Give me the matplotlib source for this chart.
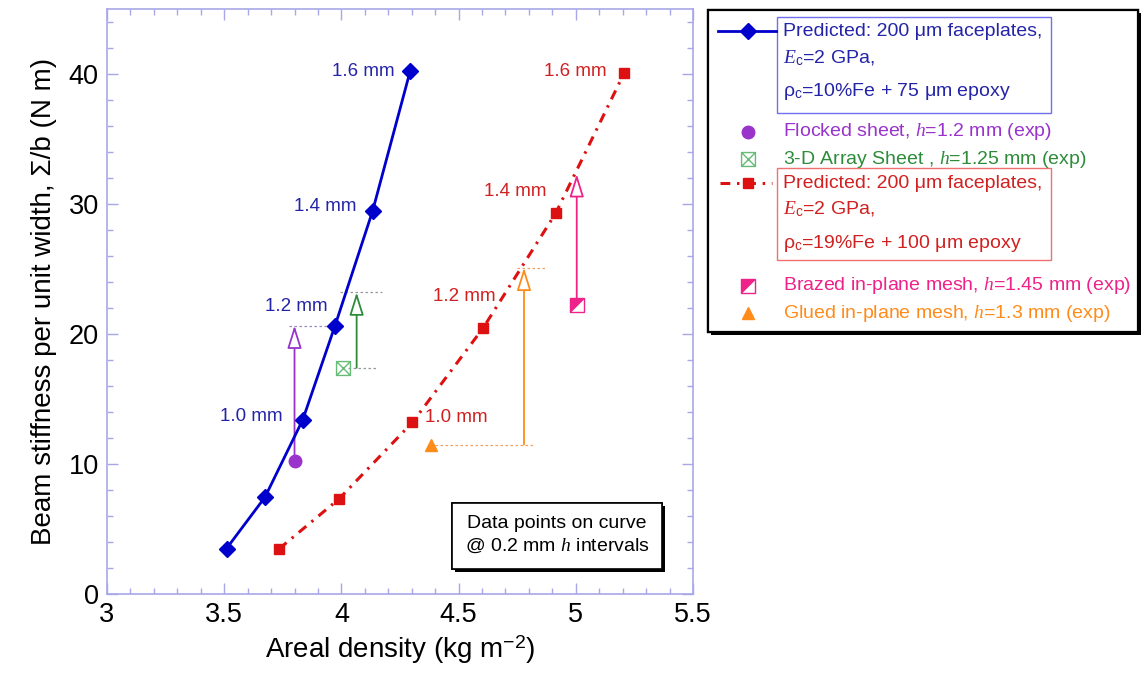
import matplotlib
matplotlib.use('Agg')
import matplotlib.pyplot as plt
import matplotlib.patheffects as pe
from matplotlib.patches import Rectangle
from matplotlib.path import Path
from matplotlib.ticker import MultipleLocator

plt.rcParams['font.family'] = ['Liberation Sans', 'DejaVu Sans']
plt.rcParams['mathtext.fontset'] = 'custom'
plt.rcParams['mathtext.rm'] = 'Liberation Sans'
plt.rcParams['mathtext.it'] = 'Liberation Serif:italic'
plt.rcParams['mathtext.bf'] = 'Liberation Sans:bold'

# predicted curves, one point per 0.2 mm of core thickness h
h_labels = ['0.6 mm', '0.8 mm', '1.0 mm', '1.2 mm', '1.4 mm', '1.6 mm']
blue_x = [3.51, 3.674, 3.835, 3.973, 4.133, 4.293]
blue_y = [3.5, 7.45, 13.4, 20.65, 29.45, 40.2]
red_x = [3.734, 3.99, 4.303, 4.605, 4.914, 5.206]
red_y = [3.47, 7.32, 13.2, 20.47, 29.28, 40.06]

# experiments: marker position, arrow x, arrow top
flocked = (3.80, 10.2)
flocked_arrow = (3.80, 20.65)
array3d = (4.005, 17.4)
array3d_arrow = (4.065, 23.2)
brazed = (5.004, 22.2)
brazed_arrow = (5.004, 32.3)
glued = (4.381, 11.5)
glued_arrow = (4.779, 25.1)

# dotted guide lines (x0, x1, y)
purple_guides = [(3.775, 3.97, 20.65)]
green_guides = [(3.994, 4.173, 23.2), (4.028, 4.156, 17.4)]
orange_guides = [(4.40, 4.826, 11.5), (4.749, 4.869, 25.1)]

BLUE = '#0000cc'
BLUE_T = '#2424a8'
RED = '#dd1111'
RED_T = '#d02020'
PURPLE = '#9933cc'
GREEN = '#2e8b3a'
GREEN_M = '#66bb77'
PINK = '#ee2288'
ORANGE = '#ff8c1a'
FRAME = '#a8a8e8'

boxx = Path([(-1, -1), (1, -1), (1, 1), (-1, 1), (-1, -1), (-1, -1), (1, 1), (-1, 1), (1, -1)],
            [Path.MOVETO, Path.LINETO, Path.LINETO, Path.LINETO, Path.CLOSEPOLY,
             Path.MOVETO, Path.LINETO, Path.MOVETO, Path.LINETO])
half_tri = Path([(-1, 1), (1, 1), (-1, -1), (-1, 1)],
                [Path.MOVETO, Path.LINETO, Path.LINETO, Path.CLOSEPOLY])

fig = plt.figure(figsize=(11.44, 6.75), dpi=100)
ax = fig.add_axes([107 / 1144, 81 / 675, 586 / 1144, 585 / 675])

# predicted curves
ax.plot(blue_x, blue_y, color=BLUE, lw=2.0, marker='D', ms=8, mfc=BLUE, mec=BLUE, zorder=4)
ax.plot(red_x, red_y, color=RED, lw=2.2, linestyle=(0, (3.2, 2.2, 0.8, 2.2)),
        marker='s', ms=7.5, mfc=RED, mec=RED, zorder=4)

blue_offsets = {2: (-20, 3), 3: (-7, 19), 4: (-16, 5), 5: (-15, 0)}
for i, (dx, dy) in blue_offsets.items():
    ax.annotate(h_labels[i], (blue_x[i], blue_y[i]), xytext=(dx, dy), textcoords='offset pixels',
                ha='right', va='center', fontsize=13.5, color=BLUE_T)
red_offsets = {2: (13, 5, 'left'), 3: (12, 31, 'right'), 4: (-9, 22, 'right'), 5: (-17, 2, 'right')}
for i, (dx, dy, ha) in red_offsets.items():
    ax.annotate(h_labels[i], (red_x[i], red_y[i]), xytext=(dx, dy), textcoords='offset pixels',
                ha=ha, va='center', fontsize=13.5, color=RED_T)

# guide lines
for guides, c in [(purple_guides, '#9a88c0'), (green_guides, '#999999'), (orange_guides, '#f0a060')]:
    for x0, x1, y in guides:
        ax.plot([x0, x1], [y, y], color=c, lw=0.9, linestyle=(0, (2, 2)), zorder=2)


def arrow(start, end, c):
    ax.annotate('', xy=end, xytext=start,
                arrowprops=dict(arrowstyle='-|>,head_length=0.7,head_width=0.22', mutation_scale=20,
                                fc='white', ec=c, lw=1.3, shrinkA=0, shrinkB=0), zorder=3)


arrow(flocked, flocked_arrow, PURPLE)
arrow((array3d_arrow[0], array3d[1]), array3d_arrow, GREEN)
arrow(brazed, brazed_arrow, PINK)
arrow((glued_arrow[0], glued[1]), glued_arrow, ORANGE)

# experimental markers
ax.plot(*flocked, marker='o', ms=9, color=PURPLE, zorder=5)
ax.plot(*array3d, marker=boxx, ms=10, mfc='none', mec=GREEN_M, mew=1.0, zorder=5)
ax.plot(*brazed, marker='s', ms=10, mfc='white', mec=PINK, mew=1.0, zorder=5)
ax.plot(*brazed, marker=half_tri, ms=10, mfc=PINK, mec=PINK, mew=0.5, zorder=6)
ax.plot(*glued, marker='^', ms=9, color=ORANGE, zorder=5)

ax.set_xlim(3, 5.5)
ax.set_ylim(0, 45)
ax.xaxis.set_major_locator(MultipleLocator(0.5))
ax.xaxis.set_minor_locator(MultipleLocator(0.1))
ax.yaxis.set_major_locator(MultipleLocator(10))
ax.yaxis.set_minor_locator(MultipleLocator(2))
ax.set_xticks([3, 3.5, 4, 4.5, 5, 5.5])
ax.set_xticklabels(['3', '3.5', '4', '4.5', '5', '5.5'])
ax.tick_params(which='both', direction='in', top=True, right=True, color=FRAME, labelsize=19.5)
ax.tick_params(which='major', length=8, width=1, pad=6)
ax.tick_params(which='minor', length=4, width=1)
for s in ax.spines.values():
    s.set_color(FRAME)
    s.set_linewidth(1.2)
ax.set_xlabel('Areal density (kg m$^{-2}$)', fontsize=20, labelpad=4)
ax.set_ylabel('Beam stiffness per unit width, \u03a3/b (N m)', fontsize=20, labelpad=8)

# overlay in pixel coordinates for the boxes
lax = fig.add_axes([0, 0, 1, 1], facecolor='none')
lax.set_xlim(0, 1144)
lax.set_ylim(675, 0)
lax.axis('off')

shadow = [pe.withSimplePatchShadow(offset=(2.5, -2.5), shadow_rgbFace='black', alpha=1), pe.Normal()]

note = Rectangle((452, 503), 210, 66, fc='white', ec='black', lw=1.2)
note.set_path_effects(shadow)
lax.add_patch(note)
lax.text(557, 524, 'Data points on curve', ha='center', va='center', fontsize=14)
lax.text(557, 546, '@ 0.2 mm $h$ intervals', ha='center', va='center', fontsize=14)

leg = Rectangle((708, 10), 430, 322, fc='white', ec='black', lw=1.6)
leg.set_path_effects(shadow)
lax.add_patch(leg)
lax.add_patch(Rectangle((777, 17), 274, 96, fc='none', ec='#7070ee', lw=1))
lax.add_patch(Rectangle((777, 168), 274, 92, fc='none', ec='#f07070', lw=1))

lax.plot([718, 776], [31, 31], color=BLUE, lw=2.0)
lax.plot(748, 31, marker='D', ms=8, color=BLUE)
lax.plot([720, 772], [183, 183], color=RED, lw=2.2, linestyle=(0, (3.2, 2.2, 0.8, 2.2)))
lax.plot(748, 183, marker='s', ms=7.5, color=RED)
lax.plot(748, 132, marker='o', ms=9, color=PURPLE)
lax.plot(748, 159, marker=boxx, ms=10, mfc='none', mec=GREEN_M, mew=1.0)
lax.plot(748, 286, marker='s', ms=10, mfc='white', mec=PINK, mew=1.0)
lax.plot(748, 286, marker=half_tri, ms=10, mfc=PINK, mec=PINK, mew=0.5)
lax.plot(748, 313, marker='^', ms=9, color=ORANGE)

tx = 783
fs = 14
lax.text(tx, 32, 'Predicted: 200 \u03bcm faceplates,', color=BLUE_T, fontsize=fs, va='center')
lax.text(tx, 58, '$E_{\\mathregular{c}}$=2 GPa,', color=BLUE_T, fontsize=fs, va='center')
lax.text(tx, 92, '\u03c1$_{\\mathregular{c}}$=10%Fe + 75 \u03bcm epoxy', color=BLUE_T, fontsize=fs, va='center')
lax.text(tx, 132, 'Flocked sheet, $h$=1.2 mm (exp)', color=PURPLE, fontsize=fs, va='center')
lax.text(tx, 159, '3-D Array Sheet , $h$=1.25 mm (exp)', color=GREEN, fontsize=fs, va='center')
lax.text(tx, 183, 'Predicted: 200 \u03bcm faceplates,', color=RED_T, fontsize=fs, va='center')
lax.text(tx, 209, '$E_{\\mathregular{c}}$=2 GPa,', color=RED_T, fontsize=fs, va='center')
lax.text(tx, 244, '\u03c1$_{\\mathregular{c}}$=19%Fe + 100 \u03bcm epoxy', color=RED_T, fontsize=fs, va='center')
lax.text(tx, 286, 'Brazed in-plane mesh, $h$=1.45 mm (exp)', color=PINK, fontsize=fs, va='center')
lax.text(tx, 313, 'Glued in-plane mesh, $h$=1.3 mm (exp)', color=ORANGE, fontsize=fs, va='center')

fig.savefig('out.png', dpi=100)
